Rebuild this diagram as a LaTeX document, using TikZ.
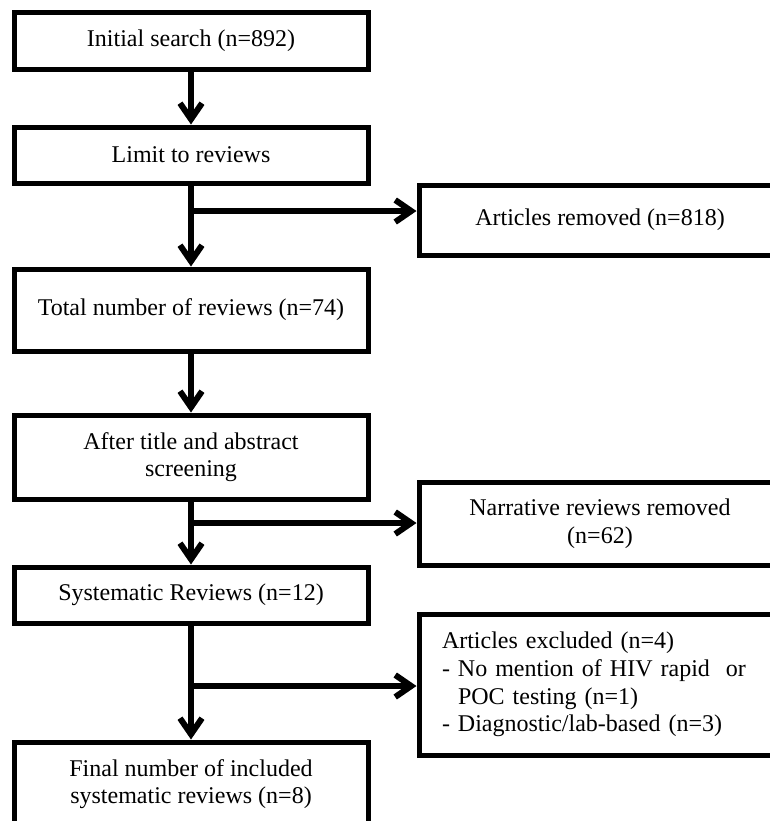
\documentclass[tikz,border=0pt]{standalone}
\usepackage{fontspec}
\setmainfont{Liberation Serif}
\usetikzlibrary{arrows.meta,positioning,calc}

\begin{document}
\begin{tikzpicture}[x=0.5pt,y=-0.5pt,
        flowbox/.style={draw, line width=2.5pt, minimum width=177pt, align=center, inner sep=2pt, font=\fontsize{12}{13.8}\selectfont},
        sidebox/.style={flowbox, minimum width=181pt},
        flowarrow/.style={line width=3pt, -{Straight Barb[length=8pt,width=11pt]}}]
        \useasboundingbox (0,0) rectangle (770,821);
        \clip (0,0) rectangle (770,821);

        % Main column (left)
        \node[flowbox, minimum height=28.5pt] (init) at (191,40.5) {Initial search (n=892)};
        \node[flowbox, minimum height=28pt] (limit) at (191,155) {Limit to reviews};
        \node[flowbox, minimum height=41pt] (total) at (191,310) {Total number of reviews (n=74)};
        \node[flowbox, minimum height=42pt] (screen) at (191,457) {After title and abstract\\screening};
        \node[flowbox, minimum height=28pt] (sysrev) at (191,595) {Systematic Reviews (n=12)};
        \node[flowbox, minimum height=42pt] (final) at (191,784) {Final number of included\\systematic reviews (n=8)};

        % Side boxes (right, cut by the page edge)
        \node[sidebox, minimum height=35pt] (removed) at (600,220) {Articles removed (n=818)};
        \node[sidebox, minimum height=41.5pt] (narrative) at (600,523.5) {Narrative reviews removed\\(n=62)};
        \node[sidebox, minimum height=70.5pt, text width=158pt, inner xsep=11.5pt, align=left] (excluded) at (600,684.5)
            {Articles excluded (n=4)\\\makebox[8pt][l]{-}No mention of HIV rapid\ \ or\\\hspace*{8pt}POC testing (n=1)\\\makebox[8pt][l]{-}Diagnostic/lab-based (n=3)};

        % Branch points on the main line
        \coordinate (b1) at (191,211);
        \coordinate (b2) at (191,523);
        \coordinate (b3) at (191,686);

        % Arrows
        \draw[flowarrow] (init) -- (limit);
        \draw[flowarrow] (limit) -- (total);
        \draw[flowarrow] (total) -- (screen);
        \draw[flowarrow] (screen) -- (sysrev);
        \draw[flowarrow] (sysrev) -- (final);
        \draw[flowarrow] (b1) -- (b1 -| removed.west);
        \draw[flowarrow] (b2) -- (b2 -| narrative.west);
        \draw[flowarrow] (b3) -- (b3 -| excluded.west);
    \end{tikzpicture}
\end{document}
